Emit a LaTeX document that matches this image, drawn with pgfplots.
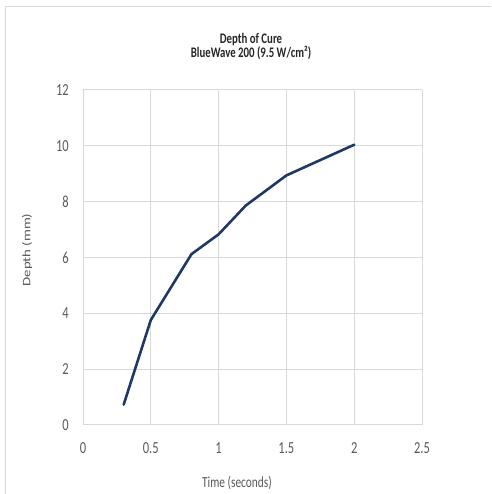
\documentclass[border=0pt]{standalone}
\usepackage{pgfplots}
\pgfplotsset{compat=1.18}
\usepackage{fontspec}
\setmainfont{Carlito}
\definecolor{curve}{RGB}{31,56,100}
\definecolor{gridc}{RGB}{217,217,217}
\definecolor{txt}{RGB}{89,89,89}
\newcommand{\vs}[1]{\scalebox{1}[1.35]{#1}}
\begin{document}
\begin{tikzpicture}[x=1pt,y=1pt]
\path[use as bounding box] (0,0) rectangle (491,494);
\draw[gridc, line width=1pt] (5,0) -- (5,487) -- (491,487);
\begin{axis}[
    at={(83pt,69pt)}, anchor=south west,
    scale only axis, width=339pt, height=335pt,
    xmin=0, xmax=2.5, ymin=0, ymax=12,
    xtick={0,0.5,1,1.5,2,2.5}, ytick={0,2,4,6,8,10,12},
    grid=major, major grid style={gridc, line width=1pt},
    axis line style={draw=none},
    major tick length=0pt,
    xticklabel={\vs{\pgfmathprintnumber[assume math mode=true]{\tick}}},
    yticklabel={\vs{\pgfmathprintnumber[assume math mode=true]{\tick}}},
    x tick label style={font=\fontsize{12.5}{13}\selectfont, text=txt, anchor=center, inner sep=0pt, yshift=-23pt},
    y tick label style={font=\fontsize{12.5}{13}\selectfont, text=txt, anchor=east, inner sep=0pt, xshift=-14pt},
]
\addplot[curve, line width=2.6pt, line join=round, line cap=round, mark=none]
    coordinates {(0.3,0.73) (0.5,3.76) (0.8,6.12) (1.0,6.83) (1.2,7.86) (1.5,8.94) (2.0,10.04)};
\end{axis}
% two-line chart title
\node[font=\bfseries\fontsize{10.8}{8.4}\selectfont, text=black!85, inner sep=0pt] at (251,447)
    {\vs{\begin{tabular}{@{}c@{}}Depth of Cure\\BlueWave 200 (9.5 W/cm²)\end{tabular}}};
\node[font=\fontsize{11.4}{12}\selectfont, text=txt] at (237,11) {\vs{Time (seconds)}};
\node[font=\fontsize{11.4}{12}\selectfont, text=txt, rotate=90] at (27,244) {\scalebox{1.3}[1]{Depth (mm)}};
\end{tikzpicture}
\end{document}
